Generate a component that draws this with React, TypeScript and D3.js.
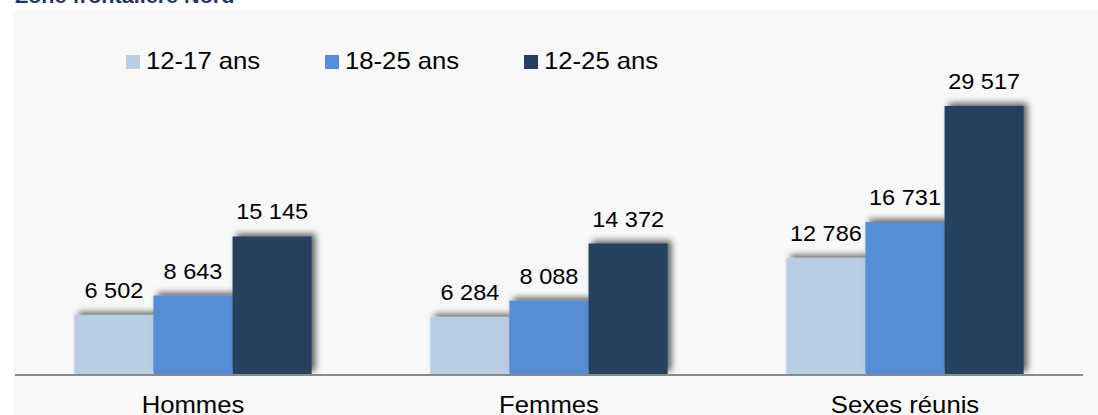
import React from "react";
import * as d3 from "d3";

const categories = ["Hommes", "Femmes", "Sexes réunis"];
const seriesNames = ["12-17 ans", "18-25 ans", "12-25 ans"];
const s1217 = [6502, 6284, 12786];
const s1825 = [8643, 8088, 16731];
const s1225 = [15145, 14372, 29517];
const seriesValues = [s1217, s1825, s1225];
const colors = ["#B9CDE5", "#558ED5", "#254061"];
const title = "Zone frontalière Nord";

const W = 1098;
const H = 415;
const baseY = 374;
const FONT = "Liberation Sans, Arial, sans-serif";
const SX = 1.07;

const fmt = (v: number) => d3.format(",")(v).replace(/,/g, " ");

export default function App() {
  const x0 = d3.scaleBand<string>().domain(categories).range([15, 1083]).paddingInner(1 / 3).paddingOuter(1 / 6);
  const x1 = d3.scaleBand<string>().domain(seriesNames).range([0, x0.bandwidth()]).padding(0);
  const y = d3.scaleLinear().domain([0, 30000]).range([baseY, baseY - 30000 * (268 / 29517)]);

  const legendX = [126, 325, 524];

  return (
    <svg width={W} height={H} style={{ position: "absolute", left: 0, top: 0 }}>
      <defs>
        <filter id="sh" x="-30%" y="-30%" width="160%" height="160%">
          <feDropShadow dx="4" dy="-3" stdDeviation="3" floodColor="#000" floodOpacity="0.6" />
        </filter>
        <clipPath id="plot">
          <rect x={0} y={0} width={W} height={baseY} />
        </clipPath>
      </defs>
      <rect x={0} y={0} width={W} height={H} fill="#ffffff" />
      <text transform={`translate(15,3) scale(1.08,1)`} fontFamily={FONT} fontWeight="bold" fontSize={20} fill="#1F3864">{title}</text>
      <rect x={13} y={11} width={W - 13} height={H - 11} fill="#F8F8F8" />

      <g clipPath="url(#plot)">
        {categories.map((c, ci) =>
          seriesNames.map((s, si) => {
            const v = seriesValues[si][ci];
            const bx = (x0(c) ?? 0) + (x1(s) ?? 0);
            return (
              <rect key={c + s} x={bx} y={y(v)} width={x1.bandwidth()} height={baseY - y(v)} fill={colors[si]} filter="url(#sh)" />
            );
          })
        )}
      </g>
      {categories.map((c, ci) =>
        seriesNames.map((s, si) => {
          const v = seriesValues[si][ci];
          const cx = (x0(c) ?? 0) + (x1(s) ?? 0) + x1.bandwidth() / 2;
          return (
            <text key={"l" + c + s} transform={`translate(${cx},${y(v) - 17}) scale(${SX},1)`} textAnchor="middle" fontFamily={FONT} fontSize={22} fill="#000">
              {fmt(v)}
            </text>
          );
        })
      )}
      <line x1={15} x2={1083} y1={baseY + 1} y2={baseY + 1} stroke="#898989" strokeWidth={2} />
      {categories.map((c) => (
        <text key={"c" + c} transform={`translate(${(x0(c) ?? 0) + x0.bandwidth() / 2},${412.5}) scale(${SX},1)`} textAnchor="middle" fontFamily={FONT} fontSize={24} fill="#000">
          {c}
        </text>
      ))}
      {seriesNames.map((s, i) => (
        <g key={"lg" + s}>
          <rect x={legendX[i]} y={55} width={14} height={14} fill={colors[i]} />
          <text transform={`translate(${legendX[i] + 20},${69}) scale(${SX},1)`} fontFamily={FONT} fontSize={24} fill="#000">{s}</text>
        </g>
      ))}
    </svg>
  );
}
